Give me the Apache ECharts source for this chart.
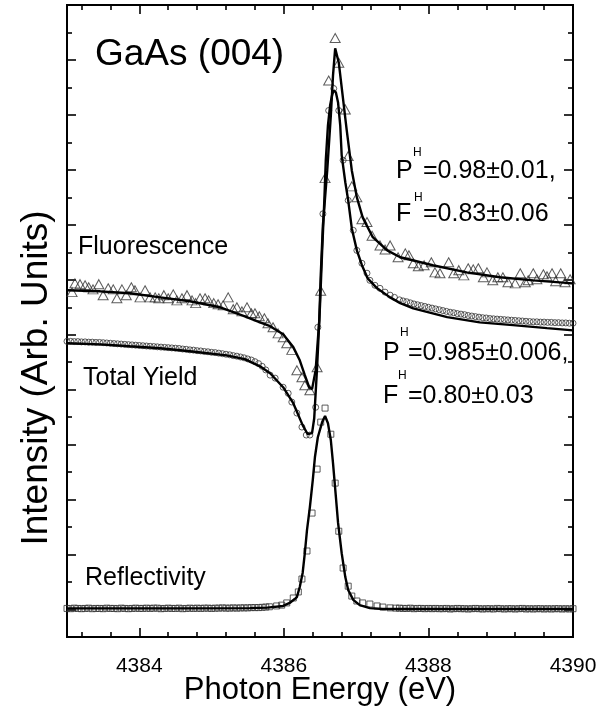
<!DOCTYPE html>
<html>
<head>
<meta charset="utf-8">
<script src="https://cdn.jsdelivr.net/npm/echarts@6/dist/echarts.min.js"></script>
<style>
  html, body { margin: 0; padding: 0; background: #fff; }
  #chart { width: 613px; height: 710px; }
</style>
</head>
<body>
<div id="chart"></div>
<script>
// Photon energy axis (eV)
const xTickMajor = [4384, 4386, 4388, 4390];
const xTickMinor = [4383.2, 4383.6, 4384.4, 4384.8, 4385.2, 4385.6, 4386.4, 4386.8,
                    4387.2, 4387.6, 4388.4, 4388.8, 4389.2, 4389.6];
// Intensity axis ticks (arbitrary units)
const yTickMajor = [1, 3, 5, 7, 9, 11, 13, 15, 17, 19, 21];
const yTickMinor = [2, 4, 6, 8, 10, 12, 14, 16, 18, 20, 22];

// Fluorescence yield, measured points
const fluoE = [4383.07,4383.11,4383.18,4383.25,4383.30,4383.36,4383.44,4383.50,4383.57,4383.64,
  4383.69,4383.76,4383.82,4383.89,4383.94,4384.01,4384.08,4384.15,4384.22,4384.27,
  4384.34,4384.40,4384.47,4384.52,4384.59,4384.66,4384.73,4384.78,4384.84,4384.91,
  4384.96,4385.03,4385.09,4385.16,4385.23,4385.30,4385.35,4385.42,4385.49,4385.55,
  4385.60,4385.66,4385.73,4385.78,4385.85,4385.92,4385.99,4386.04,4386.11,4386.18,
  4386.25,4386.29,4386.36,4386.46,4386.51,4386.57,4386.62,4386.71,4386.76,4386.85,
  4386.89,4386.94,4387.01,4387.08,4387.15,4387.22,4387.33,4387.40,4387.47,4387.58,
  4387.68,4387.73,4387.79,4387.86,4387.94,4388.04,4388.09,4388.16,4388.28,4388.35,
  4388.42,4388.49,4388.55,4388.62,4388.69,4388.76,4388.81,4388.89,4388.96,4389.03,
  4389.10,4389.20,4389.27,4389.34,4389.38,4389.45,4389.50,4389.59,4389.64,4389.71,
  4389.76,4389.83,4389.89,4389.96];
const fluoV = [12.55,12.87,12.84,12.80,12.73,12.65,12.84,12.44,12.69,12.65,
  12.33,12.65,12.44,12.73,12.62,12.36,12.62,12.36,12.36,12.33,
  12.44,12.33,12.47,12.25,12.33,12.44,12.25,12.15,12.33,12.33,
  12.25,12.15,12.11,12.07,12.36,11.93,12.00,11.85,12.00,11.78,
  11.78,11.67,11.60,11.42,11.27,11.05,10.91,10.69,10.45,9.71,
  9.45,9.16,8.98,9.82,12.60,16.70,20.25,21.80,20.90,19.20,
  17.50,16.40,16.00,15.20,15.10,14.60,14.25,14.10,14.25,13.82,
  13.96,13.89,13.60,13.49,13.53,13.64,13.27,13.24,13.64,13.24,
  13.35,13.16,13.42,13.38,13.42,13.09,13.27,12.98,13.09,13.09,
  12.91,12.87,13.24,12.91,12.98,13.24,13.02,13.20,13.13,13.24,
  12.95,13.24,12.91,13.02];
// Fluorescence yield, fitted curve
const fluoFitE = [4383.00,4383.46,4383.87,4384.29,4384.70,4385.12,4385.46,4385.67,4385.81,4385.99,
  4386.13,4386.22,4386.29,4386.35,4386.39,4386.44,4386.49,4386.51,4386.54,4386.60,
  4386.65,4386.68,4386.71,4386.76,4386.80,4386.87,4386.94,4387.01,4387.09,4387.23,
  4387.43,4387.61,4388.06,4388.53,4388.99,4389.45,4390.00];
const fluoFitV = [12.62,12.58,12.51,12.36,12.22,12.00,11.67,11.45,11.31,11.02,
  10.55,10.07,9.53,9.09,9.02,9.71,11.53,13.16,14.98,16.98,
  18.98,20.44,21.42,20.90,20.00,18.44,16.98,16.00,15.27,14.55,
  14.07,13.82,13.53,13.27,13.09,12.98,12.87];

// Total electron yield, measured points
const tyE = [4383.00,4383.05,4383.10,4383.15,4383.20,4383.25,4383.30,4383.35,4383.40,4383.45,
  4383.50,4383.55,4383.60,4383.65,4383.70,4383.75,4383.80,4383.85,4383.90,4383.95,
  4384.00,4384.05,4384.10,4384.15,4384.20,4384.25,4384.30,4384.35,4384.40,4384.45,
  4384.50,4384.55,4384.60,4384.65,4384.70,4384.75,4384.80,4384.85,4384.90,4384.95,
  4385.00,4385.05,4385.10,4385.15,4385.20,4385.25,4385.30,4385.35,4385.40,4385.45,
  4385.50,4385.55,4385.60,4385.65,4385.70,4385.75,
  4385.81,4385.88,4385.99,4386.06,4386.11,4386.18,4386.25,4386.31,4386.36,4386.44,
  4386.47,4386.54,4386.62,4386.69,4386.76,4386.82,4386.89,4386.96,4387.01,4387.08,
  4387.15,4387.19,4387.26,4387.33,4387.40,4387.47,4387.53,
  4387.60,4387.65,4387.70,4387.75,4387.80,4387.85,4387.90,4387.95,
  4388.00,4388.05,4388.10,4388.15,4388.20,4388.25,4388.30,4388.35,4388.40,4388.45,
  4388.50,4388.55,4388.60,4388.65,4388.70,4388.75,4388.80,4388.85,4388.90,4388.95,
  4389.00,4389.05,4389.10,4389.15,4389.20,4389.25,4389.30,4389.35,4389.40,4389.45,
  4389.50,4389.55,4389.60,4389.65,4389.70,4389.75,4389.80,4389.85,4389.90,4389.95,
  4390.00];
const tyV = [10.76,10.76,10.75,10.75,10.74,10.74,10.73,10.73,10.72,10.72,
  10.71,10.70,10.69,10.68,10.67,10.66,10.65,10.64,10.63,10.62,
  10.61,10.60,10.59,10.58,10.57,10.56,10.55,10.54,10.53,10.52,
  10.51,10.50,10.48,10.47,10.45,10.44,10.42,10.41,10.39,10.38,
  10.36,10.35,10.33,10.31,10.29,10.27,10.24,10.22,10.19,10.16,
  10.12,10.08,10.02,9.95,9.85,9.72,
  9.53,9.42,9.09,8.87,8.55,8.15,7.64,7.35,7.35,8.36,
  11.27,15.40,19.16,19.96,19.16,17.35,15.89,14.80,14.07,13.60,
  13.24,12.98,12.80,12.69,12.55,12.44,12.36,
  12.27,12.23,12.20,12.16,12.12,12.09,12.06,12.03,
  12.00,11.97,11.94,11.91,11.88,11.85,11.82,11.80,11.77,11.75,
  11.73,11.70,11.68,11.66,11.64,11.62,11.61,11.59,11.58,11.57,
  11.56,11.55,11.54,11.53,11.52,11.51,11.50,11.49,11.48,11.47,
  11.47,11.46,11.46,11.45,11.45,11.44,11.44,11.43,11.43,11.42,
  11.42];
// Total electron yield, fitted curve
const tyFitE = [4383.00,4383.46,4383.87,4384.29,4384.70,4385.21,4385.46,4385.67,4385.81,4385.99,
  4386.13,4386.26,4386.33,4386.39,4386.42,4386.46,4386.50,4386.53,4386.56,4386.58,
  4386.61,4386.64,4386.67,4386.69,4386.72,4386.75,4386.78,4386.80,4386.85,4386.89,
  4386.94,4387.01,4387.08,4387.16,4387.29,4387.47,4387.61,4387.79,4388.26,4388.71,
  4389.17,4389.64,4390.00];
const tyFitV = [10.69,10.65,10.58,10.51,10.40,10.25,10.11,9.85,9.60,9.09,
  8.51,7.71,7.38,7.42,7.96,9.82,12.07,14.07,15.89,17.35,
  18.62,19.35,19.75,19.89,19.82,19.45,18.62,17.53,16.55,15.89,
  14.87,14.07,13.53,13.05,12.69,12.36,12.15,11.96,11.64,11.45,
  11.35,11.24,11.16];

// Bragg reflectivity, measured points
const reflE = [4383.00,4383.05,4383.10,4383.15,4383.20,4383.25,4383.30,4383.35,4383.40,4383.45,
  4383.50,4383.55,4383.60,4383.65,4383.70,4383.75,4383.80,4383.85,4383.90,4383.95,
  4384.00,4384.05,4384.10,4384.15,4384.20,4384.25,4384.30,4384.35,4384.40,4384.45,
  4384.50,4384.55,4384.60,4384.65,4384.70,4384.75,4384.80,4384.85,4384.90,4384.95,
  4385.00,4385.05,4385.10,4385.15,4385.20,4385.25,4385.30,4385.35,4385.40,4385.45,
  4385.50,4385.55,4385.60,4385.65,4385.70,4385.75,4385.80,
  4385.90,4385.97,4386.04,4386.13,4386.20,4386.25,4386.32,4386.39,4386.46,4386.51,
  4386.57,4386.65,4386.71,4386.76,4386.82,4386.89,4386.94,4387.01,4387.09,4387.19,
  4387.29,4387.37,4387.47,
  4387.55,4387.60,4387.65,4387.70,4387.75,4387.80,4387.85,4387.90,4387.95,
  4388.00,4388.05,4388.10,4388.15,4388.20,4388.25,4388.30,4388.35,4388.40,4388.45,
  4388.50,4388.55,4388.60,4388.65,4388.70,4388.75,4388.80,4388.85,4388.90,4388.95,
  4389.00,4389.05,4389.10,4389.15,4389.20,4389.25,4389.30,4389.35,4389.40,4389.45,
  4389.50,4389.55,4389.60,4389.65,4389.70,4389.75,4389.80,4389.85,4389.90,4389.95,
  4390.00];
const reflV = [1.04,1.03,1.05,1.04,1.03,1.04,1.05,1.03,1.04,1.04,
  1.03,1.05,1.04,1.04,1.03,1.05,1.04,1.03,1.04,1.05,
  1.04,1.04,1.05,1.04,1.05,1.05,1.03,1.04,1.05,1.04,
  1.04,1.05,1.03,1.04,1.05,1.04,1.05,1.04,1.05,1.05,
  1.04,1.05,1.05,1.06,1.05,1.05,1.06,1.05,1.06,1.06,
  1.06,1.07,1.07,1.07,1.08,1.09,1.10,
  1.13,1.16,1.24,1.42,1.64,2.11,3.13,4.51,6.11,7.82,
  8.33,7.38,5.60,3.85,2.51,1.85,1.49,1.31,1.24,1.20,
  1.13,1.09,1.06,
  1.05,1.05,1.04,1.04,1.05,1.03,1.04,1.04,1.03,
  1.04,1.03,1.04,1.03,1.03,1.04,1.02,1.03,1.04,1.03,
  1.03,1.02,1.03,1.04,1.03,1.02,1.03,1.03,1.02,1.04,
  1.03,1.02,1.03,1.03,1.02,1.03,1.04,1.02,1.03,1.02,
  1.03,1.03,1.02,1.03,1.02,1.03,1.03,1.02,1.03,1.02,
  1.03];
// Bragg reflectivity, fitted curve
const reflFitE = [4383.00,4384.50,4385.53,4385.77,4385.99,4386.08,4386.15,4386.18,4386.22,4386.26,
  4386.29,4386.32,4386.36,4386.40,4386.43,4386.47,4386.53,4386.57,4386.61,4386.65,
  4386.68,4386.72,4386.75,4386.80,4386.85,4386.89,4386.96,4387.05,4387.19,4387.37,
  4387.61,4390.00];
const reflFitV = [1.04,1.04,1.05,1.07,1.13,1.24,1.38,1.45,1.82,2.33,
  3.05,3.89,4.73,5.71,6.55,7.27,7.82,8.04,7.78,7.16,
  6.33,5.09,4.15,3.05,2.18,1.71,1.35,1.16,1.05,1.02,
  1.02,1.02];

const zip = (a, b) => a.map((v, i) => [v, b[i]]);

const FONT = "'Liberation Sans', Arial, Helvetica, sans-serif";
const INK = '#000';

function xAxisDef(pos, ticks, len, labels) {
  return {
    type: 'value', min: 4383, max: 4390, position: pos,
    axisLine: { show: true, onZero: false, lineStyle: { color: INK, width: 2 } },
    axisTick: { show: true, inside: true, length: len, customValues: ticks,
                lineStyle: { color: INK, width: 1.6 } },
    axisLabel: labels
      ? { show: true, customValues: ticks, color: INK, fontSize: 21, fontFamily: FONT,
          margin: 19, formatter: (v) => String(Math.round(v)) }
      : { show: false },
    splitLine: { show: false }
  };
}
function yAxisDef(pos, ticks, len) {
  return {
    type: 'value', min: 0, max: 23, position: pos,
    axisLine: { show: true, onZero: false, lineStyle: { color: INK, width: 2 } },
    axisTick: { show: true, inside: true, length: len, customValues: ticks,
                lineStyle: { color: INK, width: 1.6 } },
    axisLabel: { show: false },
    splitLine: { show: false }
  };
}

const markStyle = { color: 'rgba(255,255,255,0)', borderColor: '#333', borderWidth: 1 };
const fitStyle = { color: INK, width: 2.4 };

function textEl(txt, x, y, size, extra) {
  return Object.assign({
    type: 'text', x: x, y: y, silent: true,
    style: { text: txt, fill: INK, font: size + 'px ' + FONT,
             textAlign: 'left', textVerticalAlign: 'middle' }
  }, extra || {});
}
// baseline -> middle of the cap height
const mid = (base, size) => base - 0.35 * size;

const chart = echarts.init(document.getElementById('chart'), null, { renderer: 'canvas' });
chart.setOption({
  animation: false,
  backgroundColor: '#fff',
  grid: { left: 67, right: 40, top: 5, bottom: 73 },
  xAxis: [
    xAxisDef('bottom', xTickMajor, 9, true),
    xAxisDef('bottom', xTickMinor, 5, false),
    xAxisDef('top', xTickMajor, 9, false),
    xAxisDef('top', xTickMinor, 5, false)
  ],
  yAxis: [
    yAxisDef('left', yTickMajor, 9),
    yAxisDef('left', yTickMinor, 5),
    yAxisDef('right', yTickMajor, 9),
    yAxisDef('right', yTickMinor, 5)
  ],
  series: [
    { type: 'scatter', data: zip(reflE, reflV), symbol: 'rect', symbolSize: 6,
      itemStyle: markStyle, z: 2 },
    { type: 'scatter', data: zip(tyE, tyV), symbol: 'circle', symbolSize: 6,
      itemStyle: markStyle, z: 2 },
    { type: 'scatter', data: zip(fluoE, fluoV), symbol: 'triangle', symbolSize: [10, 9],
      itemStyle: markStyle, z: 2 },
    { type: 'line', data: zip(reflFitE, reflFitV), showSymbol: false, symbol: 'none',
      lineStyle: fitStyle, z: 3 },
    { type: 'line', data: zip(tyFitE, tyFitV), showSymbol: false, symbol: 'none',
      lineStyle: fitStyle, z: 3 },
    { type: 'line', data: zip(fluoFitE, fluoFitV), showSymbol: false, symbol: 'none',
      lineStyle: fitStyle, z: 3 }
  ],
  graphic: [
    textEl('GaAs (004)', 95, mid(68, 37), 37),
    textEl('Fluorescence', 78, mid(256, 25), 25),
    textEl('Total Yield', 83, mid(387, 25), 25),
    textEl('Reflectivity', 85, mid(587, 25), 25),

    textEl('P', 396, mid(180, 25), 25),
    textEl('H', 413, mid(157, 12), 12),
    textEl('=0.98\u00b10.01,', 423, mid(180, 25), 25),
    textEl('F', 396, mid(223, 25), 25),
    textEl('H', 414, mid(202, 12), 12),
    textEl('=0.83\u00b10.06', 423, mid(223, 25), 25),

    textEl('P', 383, mid(362, 25), 25),
    textEl('H', 400, mid(337, 12), 12),
    textEl('=0.985\u00b10.006,', 408, mid(362, 25), 25),
    textEl('F', 383, mid(405, 25), 25),
    textEl('H', 398, mid(380, 12), 12),
    textEl('=0.80\u00b10.03', 408, mid(405, 25), 25),

    {
      type: 'text', x: 320, y: 690, silent: true,
      style: { text: 'Photon Energy (eV)', fill: INK, font: '31px ' + FONT,
               textAlign: 'center', textVerticalAlign: 'middle' }
    },
    {
      type: 'text', x: 37, y: 378, rotation: Math.PI / 2, silent: true,
      style: { text: 'Intensity (Arb. Units)', fill: INK, font: '37px ' + FONT,
               textAlign: 'center', textVerticalAlign: 'middle' }
    }
  ]
});
</script>
</body>
</html>
